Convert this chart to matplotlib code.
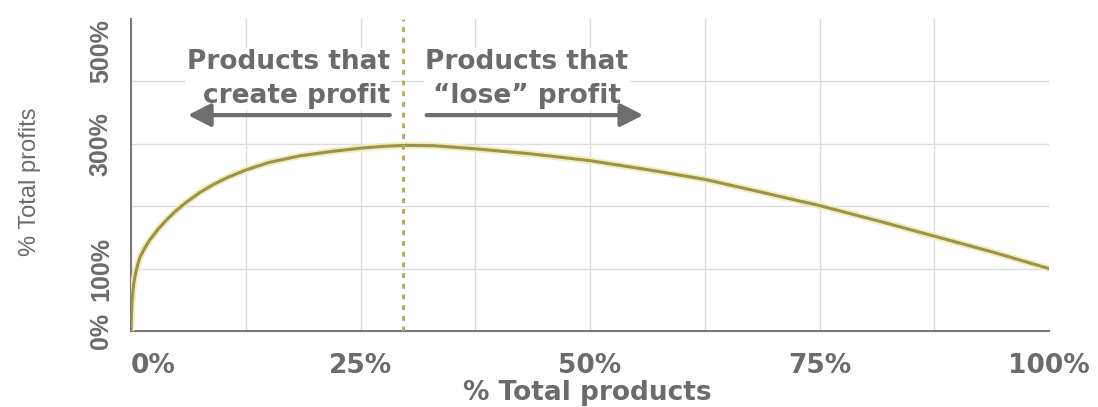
import matplotlib
matplotlib.use('Agg')
import matplotlib.pyplot as plt
from matplotlib import font_manager

# curve (% of products vs % of profits)
prod_pct = [0, 0.05, 0.15, 0.3, 0.5, 0.75, 1, 1.5, 2, 3, 4, 5, 6, 7.5, 9, 10.5,
            12.5, 15, 18.5, 22, 25, 27.5, 30, 33, 37.5, 43.5, 50, 56.5, 62.5,
            68.5, 75, 81.5, 87.5, 94, 100]
profit_pct = [0, 32, 55, 76, 93, 107, 119, 133, 145, 164, 180, 194, 206, 222, 235, 246,
              258, 270, 281, 288, 293, 296, 297.5, 297, 292, 284, 273, 258, 243,
              223, 201, 176, 152, 126, 100]

split_x = 29.6
x_ticks = [0, 12.5, 25, 37.5, 50, 62.5, 75, 87.5, 100]
x_labels = ['0%', '', '25%', '', '50%', '', '75%', '', '100%']
y_ticks = [0, 100, 200, 300, 400, 500]
y_labels = ['0%', '100%', '', '300%', '', '500%']

left_text = 'Products that\ncreate profit'
right_text = 'Products that\n\u201close\u201d profit'

names = {f.name for f in font_manager.fontManager.ttflist}
narrow = 'Liberation Sans Narrow' if 'Liberation Sans Narrow' in names else 'Liberation Sans'

grey = '#6b6b6b'

fig = plt.figure(figsize=(10.98, 4.07), dpi=100)
ax = fig.add_axes([0.1193, 0.1867, 0.8361, 0.7666])

ax.plot(prod_pct, profit_pct, color='#f1edbd', lw=5, solid_capstyle='round',
        solid_joinstyle='round', zorder=3)
ax.plot(prod_pct, profit_pct, color='#99934c', lw=2.2, solid_capstyle='round',
        solid_joinstyle='round', zorder=4)
ax.axvline(split_x, color='#b3b060', lw=2.2, linestyle=(0, (1.6, 1.9)), zorder=5)

ax.set_xlim(0, 100)
ax.set_ylim(0, 500)

ax.set_xticks(x_ticks)
ax.set_xticklabels(x_labels)
ax.set_yticks(y_ticks)
ax.set_yticklabels(y_labels)

ax.tick_params(axis='x', length=0, pad=16, labelsize=19, labelcolor=grey)
ax.tick_params(axis='y', length=0, pad=13, labelcolor=grey)
for lab in ax.get_xticklabels():
    lab.set_fontweight('bold')
    lab.set_family('DejaVu Sans')
ax.get_xticklabels()[0].set_ha('left')
for lab in ax.get_yticklabels():
    lab.set_rotation(90)
    lab.set_va('center')
    lab.set_family(narrow)
    lab.set_fontweight('bold')
    lab.set_fontsize(18)
ax.get_yticklabels()[-1].set_va('top')

ax.grid(True, color='#dcdcdc', lw=1, zorder=0)
ax.xaxis.get_gridlines()[-1].set_visible(False)
ax.yaxis.get_gridlines()[-1].set_visible(False)
ax.set_axisbelow(True)

for side in ['top', 'right']:
    ax.spines[side].set_visible(False)
for side in ['left', 'bottom']:
    ax.spines[side].set_color('#7a7a7a')
    ax.spines[side].set_linewidth(1.5)

ax.set_xlabel('% Total products', fontsize=19, fontweight='bold', color=grey,
              family='DejaVu Sans')
ax.xaxis.set_label_coords(0.497, -0.158)
ax.set_ylabel('% Total profits', fontsize=17, color=grey, family=narrow)
ax.yaxis.set_label_coords(-0.098, 0.478)

box = dict(facecolor='white', edgecolor='none', pad=1)
ax.text(28.2, 452, left_text, ha='right', va='top', multialignment='right',
        fontsize=19, fontweight='bold', color=grey, linespacing=1.4, bbox=box, zorder=6)
ax.text(43.1, 452, right_text, ha='center', va='top', multialignment='center',
        fontsize=19, fontweight='bold', color=grey, linespacing=1.4, bbox=box, zorder=6)

arrow = dict(arrowstyle='-|>,head_length=0.55,head_width=0.28', lw=3, color='#6e6e6e',
             mutation_scale=25, shrinkA=0, shrinkB=0)
ax.annotate('', xy=(6.2, 346), xytext=(28.2, 346), arrowprops=arrow, zorder=6)
ax.annotate('', xy=(55.8, 346), xytext=(32.2, 346), arrowprops=arrow, zorder=6)

plt.savefig('out.png', dpi=100)
